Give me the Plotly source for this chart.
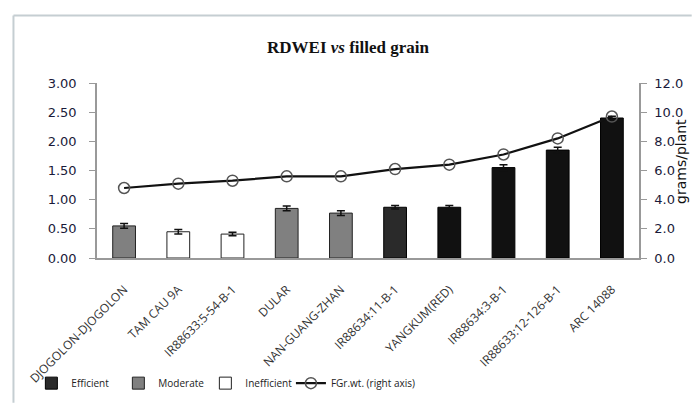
import plotly.graph_objects as go

categories = ["DJOGOLON-DJOGOLON", "TAM CAU 9A", "IR88633:5-54-B-1", "DULAR",
              "NAN-GUANG-ZHAN", "IR88634:11-B-1", "YANGKUM(RED)", "IR88634:3-B-1",
              "IR88633:12-126-B-1", "ARC 14088"]
rdwei = [0.55, 0.45, 0.41, 0.85, 0.77, 0.87, 0.87, 1.55, 1.85, 2.40]
rdwei_err = [0.04, 0.04, 0.03, 0.04, 0.04, 0.03, 0.03, 0.05, 0.05, 0.03]
group = ["Moderate", "Inefficient", "Inefficient", "Moderate", "Moderate",
         "Efficient", "Efficient", "Efficient", "Efficient", "Efficient"]
fgr_wt = [4.8, 5.1, 5.3, 5.6, 5.6, 6.1, 6.4, 7.1, 8.2, 9.7]

W, H = 695, 410
L, R, T, B = 97, 642, 83, 262

def px(x):
    return (x - L) / (R - L)

def py(y):
    return (B - y) / (B - T)

styles = {
    "Efficient": dict(color="#111111", line="#000000"),
    "Moderate": dict(color="#808080", line="#222222"),
    "Inefficient": dict(color="#ffffff", line="#222222"),
}

fig = go.Figure()
for g in ["Efficient", "Moderate", "Inefficient"]:
    xs = [c for c, gg in zip(categories, group) if gg == g]
    ys = [v for v, gg in zip(rdwei, group) if gg == g]
    es = [e for e, gg in zip(rdwei_err, group) if gg == g]
    colors = [styles[g]["color"]] * len(xs)
    if g == "Efficient":
        colors = ["#2a2a2a" if c == "IR88634:11-B-1" else "#111111" for c in xs]
    fig.add_trace(go.Bar(
        x=xs, y=ys, name=g, width=0.42, legend="legend",
        marker=dict(color=colors, line=dict(color=styles[g]["line"], width=1)),
        error_y=dict(type="data", array=es, color="#111111", thickness=1.5, width=4),
    ))

fig.add_trace(go.Scatter(
    x=categories, y=fgr_wt, name="FGr.wt. (right axis)", yaxis="y2",
    mode="lines+markers", legend="legend2",
    line=dict(color="#111111", width=2.2),
    marker=dict(symbol="circle", size=11, color="rgba(255,255,255,0)",
                line=dict(color="#555555", width=1.5)),
))

tickfont = dict(family="DejaVu Sans", size=13, color="#1a1a3a")
legfont = dict(family="Open Sans", size=10, color="#222222")

fig.update_layout(
    width=W, height=H,
    margin=dict(l=L, r=W - R, t=T, b=H - B),
    paper_bgcolor="white", plot_bgcolor="white",
    barmode="overlay",
    showlegend=True,
    title=dict(text="<b>RDWEI <i>vs</i> filled grain</b>", x=348 / W, xanchor="center",
               y=1 - 47 / H, yanchor="middle",
               font=dict(family="Liberation Serif", size=17, color="#111111")),
    xaxis=dict(type="category", categoryorder="array", categoryarray=categories,
               tickangle=-45, tickfont=dict(family="Open Sans", size=12, color="#333333"),
               ticklabelstandoff=18,
               showline=True, linecolor="#999999", linewidth=1.5, ticks="",
               showgrid=False, range=[-0.5, 9.5]),
    yaxis=dict(range=[0, 3], dtick=0.5, tickformat=".2f", tickfont=tickfont,
               ticklabelstandoff=10,
               showline=True, linecolor="#999999", linewidth=1.5,
               ticks="outside", ticklen=6, tickcolor="#999999",
               showgrid=False, zeroline=False),
    yaxis2=dict(range=[0, 12], dtick=2, tickformat=".1f", tickfont=tickfont,
                ticklabelstandoff=5,
                overlaying="y", side="right", anchor="x",
                showline=True, linecolor="#999999", linewidth=1.5,
                ticks="outside", ticklen=6, tickcolor="#999999",
                showgrid=False, zeroline=False),
    legend=dict(orientation="h", x=px(31), xanchor="left", y=py(390), yanchor="middle",
                font=legfont, itemwidth=30, entrywidth=42, bgcolor="rgba(0,0,0,0)"),
    legend2=dict(orientation="h", x=px(292), xanchor="left", y=py(390), yanchor="middle",
                 font=legfont, itemwidth=30, bgcolor="rgba(0,0,0,0)"),
)

fig.add_annotation(text="grams/plant", xref="paper", yref="paper",
                   x=px(684), y=py(163), textangle=-90, showarrow=False,
                   font=dict(family="DejaVu Sans", size=14, color="#111111"),
                   xanchor="center", yanchor="middle")

# outer frame lines
fig.add_shape(type="line", xref="paper", yref="paper", x0=px(13), x1=px(695),
              y0=py(14), y1=py(14), line=dict(color="#c5ced2", width=2))
fig.add_shape(type="line", xref="paper", yref="paper", x0=px(13), x1=px(13),
              y0=py(14), y1=py(410), line=dict(color="#c5ced2", width=2))

fig.write_html("out.html")
